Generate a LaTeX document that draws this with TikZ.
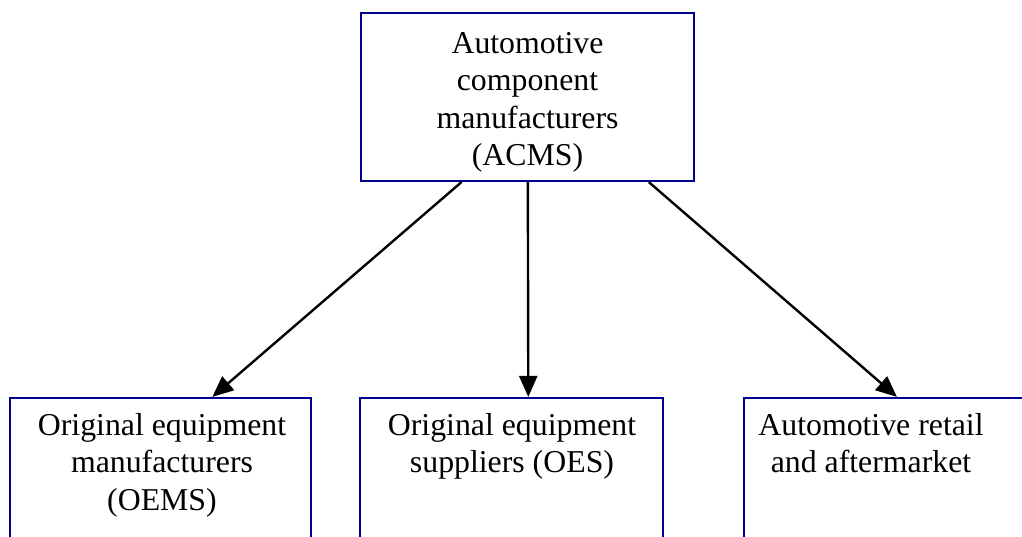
\documentclass[tikz,border=0pt]{standalone}
\usepackage{fontspec}
\setmainfont{Liberation Serif}
\usetikzlibrary{arrows.meta,calc}
\definecolor{boxblue}{RGB}{0,0,140}
\begin{document}
\begin{tikzpicture}[x=1pt,y=-1pt,
  box/.style={draw=boxblue,line width=2.2pt,fill=white,inner sep=0pt},
  txt/.style={align=center,inner sep=0pt,anchor=north,
    font=\fontsize{31.8pt}{37.5pt}\selectfont},
  link/.style={black,line width=2.4pt,-{Triangle[length=21pt,width=18pt]}}]
\useasboundingbox (0,0) rectangle (1022,536);
\clip (0,0) rectangle (1022,536);
% top box
\node[box,minimum width=333pt,minimum height=168pt] (acms) at (527.5,97) {};
\node[txt] (acmsT) at (527.5,32) {Automotive\\component\\manufacturers\\(ACMS)};
% bottom boxes, running past the lower edge
\node[box,minimum width=301pt,minimum height=180pt] (oem) at (160.5,488) {};
\node[box,minimum width=303pt,minimum height=180pt] (oes) at (511.5,488) {};
\node[box,minimum width=301pt,minimum height=180pt] (ret) at (894.5,488) {};
\node[txt] (oemT) at (162,413) {Original equipment\\manufacturers\\(OEMS)};
\node[txt] (oesT) at (512,413) {Original equipment\\suppliers (OES)};
\node[txt] (retT) at (871,413) {Automotive retail\\and aftermarket};
% connectors
\draw[link] ($(acms.south west)!0.303!(acms.south east)$) -- ($(oem.north west)!0.671!(oem.north east)$);
\draw[link] ($(acms.south west)!0.501!(acms.south east)$) -- ($(oes.north west)!0.555!(oes.north east)$);
\draw[link] ($(acms.south west)!0.862!(acms.south east)$) -- ($(ret.north west)!0.508!(ret.north east)$);
\end{tikzpicture}
\end{document}
